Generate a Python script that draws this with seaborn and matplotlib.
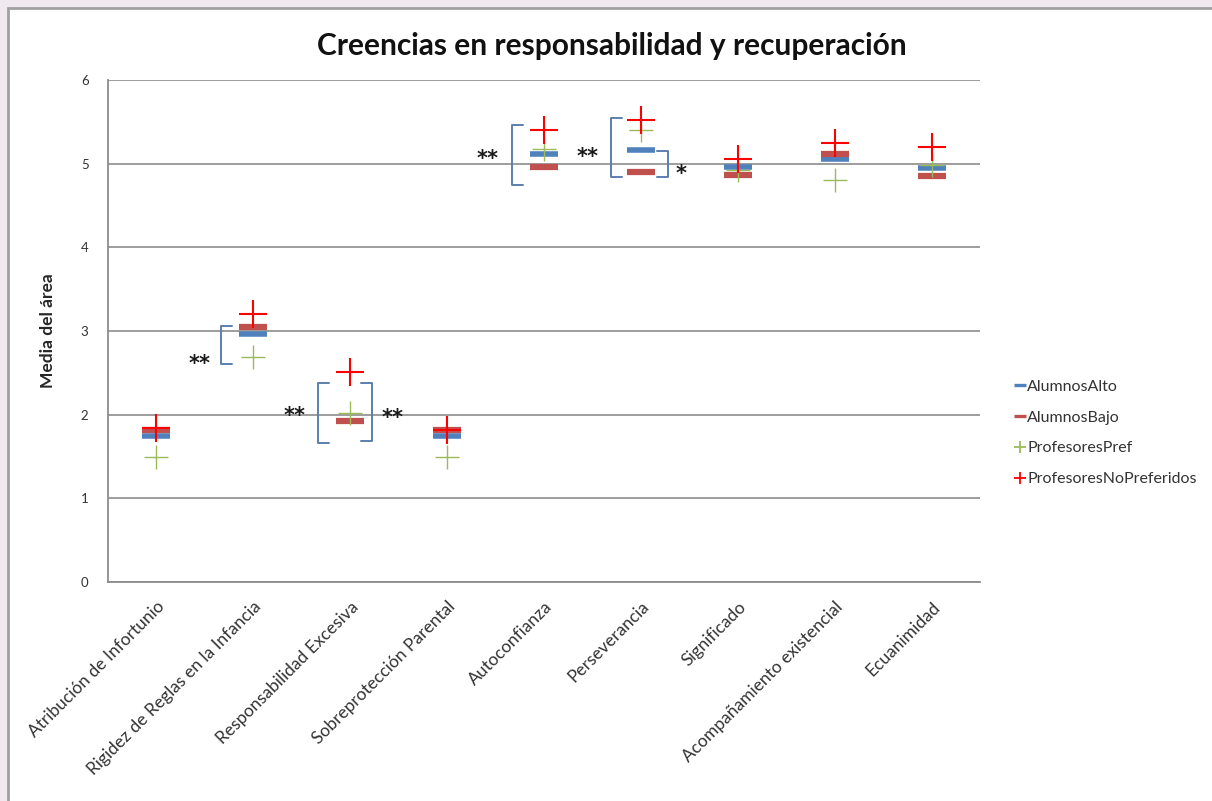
import pandas as pd
import matplotlib.pyplot as plt
import matplotlib.patches as mpatches
from matplotlib.lines import Line2D
import seaborn as sns

# categorias y medias
categorias = ['Atribución de Infortunio', 'Rigidez de Reglas en la Infancia',
              'Responsabilidad Excesiva', 'Sobreprotección Parental',
              'Autoconfianza', 'Perseverancia', 'Significado',
              'Acompañamiento existencial', 'Ecuanimidad']
alumnos_alto = [1.74, 2.96, 1.93, 1.75, 5.12, 5.16, 4.96, 5.05, 4.95]
alumnos_bajo = [1.82, 3.05, 1.92, 1.82, 4.96, 4.90, 4.87, 5.12, 4.85]
profesores_pref = [1.50, 2.69, 2.02, 1.50, 5.18, 5.40, 4.93, 4.80, 4.98]
profesores_nopref = [1.84, 3.20, 2.51, 1.82, 5.40, 5.52, 5.05, 5.25, 5.20]

series = ['AlumnosAlto', 'AlumnosBajo', 'ProfesoresPref', 'ProfesoresNoPreferidos']
valores = [alumnos_alto, alumnos_bajo, profesores_pref, profesores_nopref]
colores = ['#4F81BD', '#C0504D', '#9BBB59', '#FF0000']
marcadores = ['_', '_', '+', '+']
tamanos = [380, 420, 300, 400]
grosores = [4.0, 4.5, 1.0, 1.5]

# anotaciones de significacion: (x, y_arriba, y_abajo, lado) y textos (x, y, texto)
corchetes = [(0.67, 3.06, 2.60, 'izq'), (1.67, 2.38, 1.66, 'izq'), (2.22, 2.38, 1.68, 'der'),
             (3.67, 5.46, 4.75, 'izq'), (4.69, 5.54, 4.84, 'izq'), (5.28, 5.15, 4.84, 'der')]
asteriscos = [(0.44, 2.60, '**'), (1.43, 1.98, '**'), (2.44, 1.96, '**'),
              (3.42, 5.05, '**'), (4.45, 5.08, '**'), (5.41, 4.88, '*')]

df = pd.DataFrame({'Categoria': categorias * 4,
                   'Serie': [s for s in series for _ in categorias],
                   'Media': sum(valores, [])})

sns.set_style('white')
plt.rcParams['font.family'] = ['Lato', 'DejaVu Sans']

fig = plt.figure(figsize=(12.12, 8.01), dpi=100, facecolor='#efe8ef')
# marco blanco del grafico
marco = mpatches.Rectangle((8 / 1212, -0.05), 1.2, 1.05 - 8 / 801,
                           transform=fig.transFigure, facecolor='white',
                           edgecolor='#a0a0a0', linewidth=2, zorder=-5)
fig.patches.append(marco)
ax = fig.add_axes([108 / 1212, 1 - 582 / 801, (980 - 108) / 1212, (582 - 80) / 801])
ax.set_zorder(2)
ax.set_facecolor('white')

for s, c, m, sz, lw in zip(series, colores, marcadores, tamanos, grosores):
    sub = df[df['Serie'] == s]
    sns.scatterplot(data=sub, x='Categoria', y='Media', ax=ax, marker=m, color=c,
                    s=sz, linewidth=lw, legend=False, zorder=3)

for x, y1, y2, lado in corchetes:
    d = 0.11 if lado == 'izq' else -0.11
    ax.plot([x + d, x, x, x + d], [y1, y1, y2, y2], color='#5b7fae', lw=1.4, zorder=2)
for x, y, t in asteriscos:
    ax.text(x, y, t, ha='center', va='center', fontsize=15, color='#1a1a1a',
            family='DejaVu Sans', fontweight='bold')

ax.set_xlim(-0.5, 8.5)
ax.set_ylim(0, 6)
ax.set_yticks(range(7))
ax.yaxis.grid(True, color='#8c8c8c', lw=1.2)
ax.set_axisbelow(True)
for sp in ['top', 'right']:
    ax.spines[sp].set_visible(False)
for sp in ['left', 'bottom']:
    ax.spines[sp].set_color('#8c8c8c')
    ax.spines[sp].set_linewidth(1.3)
ax.tick_params(axis='y', length=4, color='#8c8c8c', labelsize=9.5, labelcolor='#333333', pad=10)
ax.tick_params(axis='x', length=0, labelsize=12.5, labelcolor='#333333', pad=12)
plt.setp(ax.get_xticklabels(), rotation=45, ha='right', rotation_mode='anchor')
ax.set_xlabel('')
ax.set_ylabel('Media del área', fontsize=12.5, fontweight='bold', labelpad=18)
fig.text(612 / 1212, 1 - 46 / 801, 'Creencias en responsabilidad y recuperación',
         ha='center', va='center', fontsize=21.5, fontweight='bold', color='#111111')

handles = [Line2D([], [], linestyle='none', marker=m, color=c, markersize=9,
                  markeredgewidth=2.4 if m == '_' else 1.3)
           for m, c in zip(marcadores, colores)]
leg = ax.legend(handles, series, loc='center left', bbox_to_anchor=(1.033, 0.297),
                frameon=False, fontsize=11.5, handlelength=0.6, handletextpad=0.15,
                labelspacing=1.05, borderaxespad=0)
for t in leg.get_texts():
    t.set_color('#333333')

fig.savefig('out.png', dpi=100, facecolor=fig.get_facecolor())
